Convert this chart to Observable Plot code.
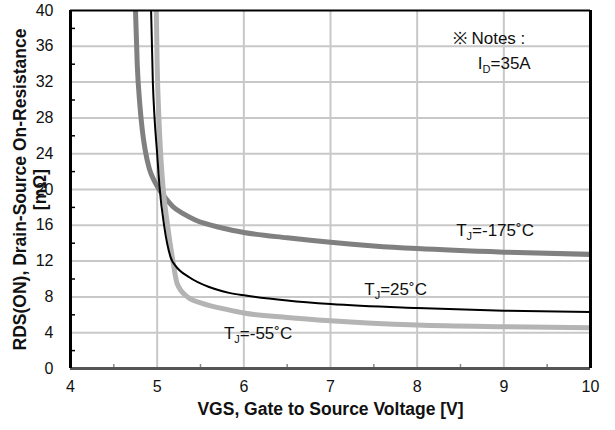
<!DOCTYPE html>
<html>
<head>
<meta charset="utf-8">
<script src="https://cdn.jsdelivr.net/npm/d3@7"></script>
<script src="https://cdn.jsdelivr.net/npm/@observablehq/plot@0.6"></script>
<style>
  html, body { margin: 0; padding: 0; background: #fff; }
  #chart { width: 615px; height: 430px; }
</style>
</head>
<body>
<div id="chart"></div>
<script>
// ---- data ----
const vgs175 = [4.75, 4.77, 4.80, 4.83, 4.86, 4.91, 4.97, 5.03, 5.10, 5.18, 5.30, 5.44, 5.75, 6.0, 6.5, 7, 7.5, 8, 9, 10];
const rds175 = [40, 34, 29.5, 26.5, 24.5, 22.3, 20.9, 19.9, 19.0, 18.1, 17.3, 16.6, 15.7, 15.2, 14.6, 14.1, 13.7, 13.4, 13.0, 12.75];

const vgs25 = [4.93, 4.95, 4.97, 5.0, 5.03, 5.08, 5.16, 5.21, 5.37, 5.6, 5.83, 6.02, 6.5, 7, 8, 9, 10];
const rds25 = [40, 32, 28, 24, 20, 16, 12.3, 11.5, 10.2, 9.1, 8.45, 8.15, 7.6, 7.2, 6.75, 6.45, 6.3];

const vgs55 = [4.99, 5.0, 5.02, 5.04, 5.07, 5.12, 5.18, 5.23, 5.35, 5.52, 5.8, 6.0, 6.5, 7, 8, 9, 10];
const rds55 = [40, 34, 28, 24, 20, 16, 12.1, 9.5, 8.0, 7.27, 6.6, 6.2, 5.7, 5.33, 4.85, 4.66, 4.55];

const xTicks = [4, 5, 6, 7, 8, 9, 10];
const yTicks = [0, 4, 8, 12, 16, 20, 24, 28, 32, 36, 40];
const xMinor = [4.5, 5.5, 6.5, 7.5, 8.5, 9.5];
const yMinor = [2, 6, 10, 14, 18, 22, 26, 30, 34, 38];

const labelText = ["T_J=-175˚C", "T_J=25˚C", "T_J=-55˚C", "※ Notes :", "I_D=35A"];
const labelX = [8.45, 7.39, 5.77, 8.41, 8.7];
const labelY = [15.4, 8.85, 3.85, 36.9, 34.1];

const xLabel = "VGS, Gate to Source Voltage [V]";
const yLabel1 = "RDS(ON), Drain-Source On-Resistance";
const yLabel2 = "[mΩ]";

// ---- build tables ----
const toRows = (xs, ys) => xs.map((x, i) => ({x, y: ys[i]}));
const s175 = toRows(vgs175, rds175);
const s25 = toRows(vgs25, rds25);
const s55 = toRows(vgs55, rds55);
const labels = labelText.map((t, i) => ({t, x: labelX[i], y: labelY[i]}));

const font = "'Liberation Sans', Arial, Helvetica, sans-serif";

const chart = Plot.plot({
  width: 615,
  height: 430,
  marginLeft: 70,
  marginRight: 25,
  marginTop: 10,
  marginBottom: 62,
  style: {fontFamily: font, fontSize: "16px", color: "#111", background: "#fff"},
  x: {domain: [4, 10]},
  y: {domain: [0, 40]},
  marks: [
    Plot.gridX([5, 6, 7, 8, 9], {stroke: "#c8c8c8", strokeOpacity: 1, strokeWidth: 2}),
    Plot.gridY([4, 8, 12, 16, 20, 24, 28, 32, 36], {stroke: "#c8c8c8", strokeOpacity: 1, strokeWidth: 2}),
    Plot.axisX(xTicks, {tickSize: 0, tickPadding: 12, fontSize: 16, label: null}),
    Plot.axisY(yTicks, {tickSize: 0, tickPadding: 17, fontSize: 16, label: null}),
    Plot.axisY(yMinor, {tickSize: 5, dx: 5, tickFormat: () => "", label: null, stroke: "#000", strokeWidth: 1.5}),
    Plot.axisX(xMinor, {tickSize: 4, dy: -4, tickFormat: () => "", label: null, stroke: "#888", strokeWidth: 1.5}),
    Plot.line(s175, {x: "x", y: "y", stroke: "#808080", strokeWidth: 5, curve: "monotone-x", clip: true}),
    Plot.line(s55, {x: "x", y: "y", stroke: "#b4b4b4", strokeWidth: 5, curve: "monotone-x", clip: true}),
    Plot.line(s25, {x: "x", y: "y", stroke: "#000", strokeWidth: 2, curve: "monotone-x", clip: true}),
    Plot.ruleY([0], {stroke: "#555", strokeWidth: 3}),
    Plot.ruleY([40], {stroke: "#000", strokeWidth: 2}),
    Plot.ruleX([4], {stroke: "#000", strokeWidth: 3}),
    Plot.ruleX([10], {stroke: "#000", strokeWidth: 3}),
    Plot.text(labels, {x: "x", y: "y", text: "t", textAnchor: "start", fontSize: 17, fill: "#111"}),
    Plot.text([xLabel], {frameAnchor: "bottom", dy: 41, textAnchor: "middle", lineAnchor: "middle", fontWeight: "bold", fontSize: 17.5, fill: "#111"}),
    Plot.text([yLabel1], {frameAnchor: "left", dx: -50, rotate: -90, textAnchor: "middle", lineAnchor: "middle", fontWeight: "bold", fontSize: 17.5, fill: "#111"}),
    Plot.text([yLabel2], {frameAnchor: "left", dx: -30, rotate: -90, textAnchor: "middle", lineAnchor: "middle", fontWeight: "bold", fontSize: 17.5, fill: "#111"})
  ]
});

// subscripts (T_J, I_D)
d3.select(chart).selectAll("text").each(function () {
  const t = this.textContent;
  const m = t.match(/^(.*?)_(\w)(.*)$/);
  if (!m) return;
  const sel = d3.select(this);
  sel.text(null);
  sel.append("tspan").text(m[1]);
  sel.append("tspan").attr("dy", 4).attr("font-size", 11).text(m[2]);
  sel.append("tspan").attr("dy", -4).text(m[3]);
});

document.getElementById("chart").appendChild(chart);
</script>
</body>
</html>
